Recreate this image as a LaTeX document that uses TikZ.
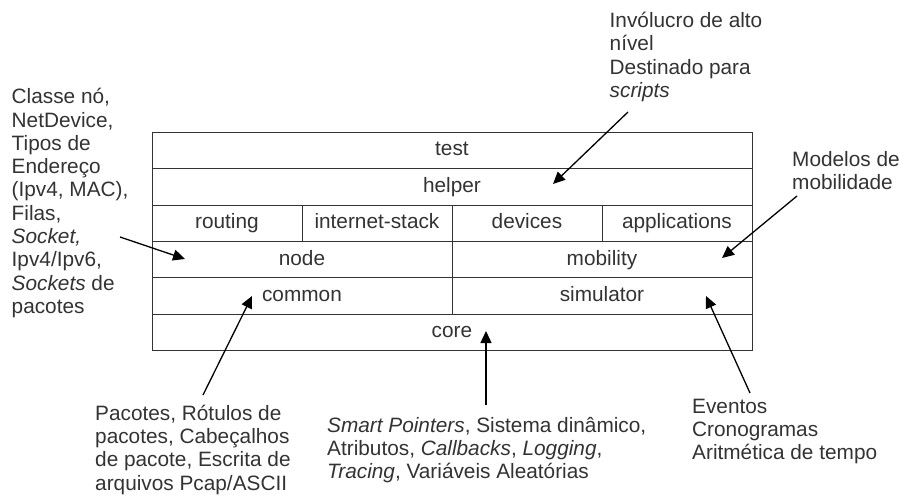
\documentclass[tikz,border=0pt]{standalone}
\usepackage{fontspec}
\setmainfont{Liberation Sans}
\usetikzlibrary{arrows.meta}
\definecolor{ink}{HTML}{333333}
\tikzset{
  cell/.style={draw=ink, line width=0.9pt, anchor=north west, inner sep=0pt,
    minimum height=36.4pt, text=ink, text height=11pt, text depth=0pt,
    font=\fontsize{20.8}{23.3}\selectfont},
  note/.style={anchor=north west, inner sep=0pt, align=left, text=ink,
    font=\fontsize{20.8}{23.3}\selectfont},
  pointer/.style={draw=black, line width=1.3pt,
    -{Triangle[length=12pt,width=11pt]}}
}
\begin{document}
\begin{tikzpicture}[x=1pt,y=-1pt]
\useasboundingbox (0,0) rectangle (904,495);
\fill[white] (0,0) rectangle (904,495);

% layer stack
\node[cell, minimum width=600pt] (test)   at (151.5,131.7) {test};
\node[cell, minimum width=600pt] (helper) at (151.5,168.1) {helper};
\node[cell, minimum width=150pt] (routing)   at (151.5,204.5) {routing};
\node[cell, minimum width=150pt] (inetstack) at (301.5,204.5) {internet-stack};
\node[cell, minimum width=150pt] (devices)   at (451.5,204.5) {devices};
\node[cell, minimum width=150pt] (apps)      at (601.5,204.5) {applications};
\node[cell, minimum width=300pt] (nodecell)  at (151.5,240.9) {node};
\node[cell, minimum width=300pt] (mobility)  at (451.5,240.9) {mobility};
\node[cell, minimum width=300pt] (common)    at (151.5,277.3) {common};
\node[cell, minimum width=300pt] (simulator) at (451.5,277.3) {simulator};
\node[cell, minimum width=600pt] (core)   at (151.5,313.7) {core};

% descriptions
\node[note] (nodenote) at (11.5,87.2) {\strut Classe nó,\\NetDevice,\\Tipos de\\Endereço\\(Ipv4, MAC),\\Filas,\\\textit{Socket,}\\Ipv4/Ipv6,\\\textit{Sockets} de\\pacotes};
\node[note] (helpernote) at (609.5,11) {\strut Invólucro de alto\\nível\\Destinado para\\\textit{scripts}};
\node[note] (mobnote) at (792,149.7) {\strut Modelos de\\mobilidade};
\node[note] (commonnote) at (95,403.7) {\strut Pacotes, Rótulos de\\pacotes, Cabeçalhos\\de pacote, Escrita de\\arquivos Pcap/ASCII};
\node[note] (corenote) at (327,415.7) {\strut\textit{Smart Pointers}, Sistema dinâmico,\\Atributos, \textit{Callbacks}, \textit{Logging},\\\textit{Tracing}, Variáveis Aleatórias};
\node[note] (simnote) at (692,396.7) {\strut Eventos\\Cronogramas\\Aritmética de tempo};

% pointer ends
\coordinate (p1s) at (120,237);  \coordinate (p1e) at (185,259);
\coordinate (p2s) at (628,112);  \coordinate (p2e) at (553,184);
\coordinate (p3s) at (797,196);  \coordinate (p3e) at (722,258);
\coordinate (p4s) at (203,395);  \coordinate (p4e) at (252,296);
\coordinate (p5s) at (486,405);  \coordinate (p5e) at (486,331);
\coordinate (p6s) at (750,393);  \coordinate (p6e) at (706,296);

\draw[pointer] (p1s) -- (p1e);
\draw[pointer] (p2s) -- (p2e);
\draw[pointer] (p3s) -- (p3e);
\draw[pointer] (p4s) -- (p4e);
\draw[pointer] (p5s) -- (p5e);
\draw[pointer] (p6s) -- (p6e);
\end{tikzpicture}
\end{document}
